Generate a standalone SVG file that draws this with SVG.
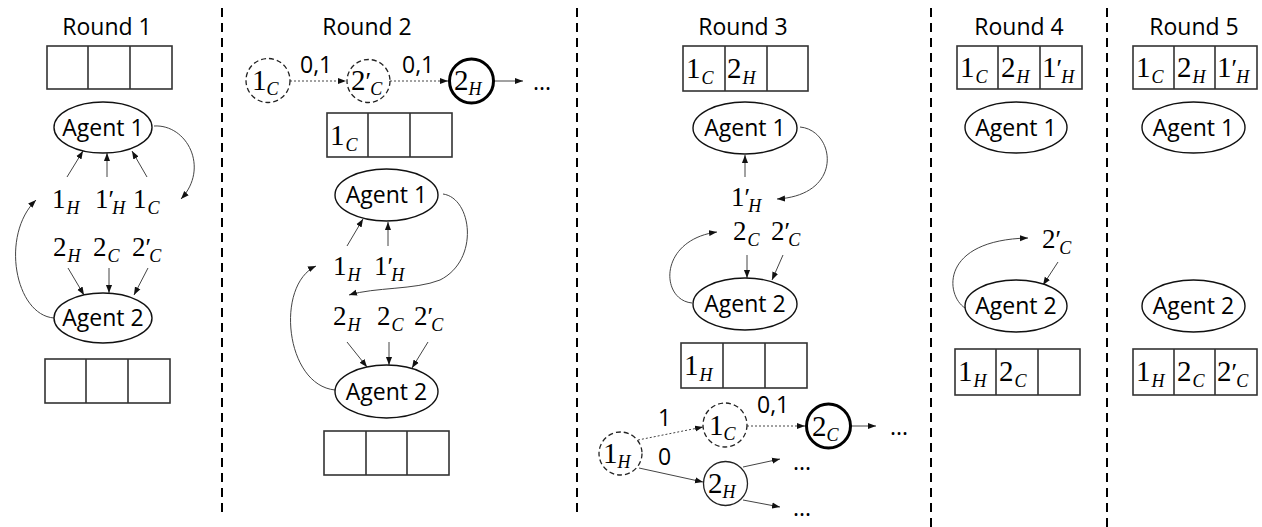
<svg xmlns="http://www.w3.org/2000/svg" width="1262" height="527" viewBox="0 0 1262 527">
<style>
.t{font-family:"Open Sans","Noto Sans",sans-serif;font-size:23px;fill:#000}
.c{text-anchor:middle}
.m{font-family:"Liberation Serif","DejaVu Serif",serif;font-size:27px;fill:#000}
.mb{font-size:29px}
.s{font-style:italic;font-size:18px}
.p{font-size:26px}
.bx{fill:none;stroke:#333;stroke-width:1.6}
.el{fill:#fff;stroke:#111;stroke-width:1.4}
.arr{fill:none;stroke:#444;stroke-width:1;marker-end:url(#ah)}
.dot{stroke-dasharray:2 2}
.dc{fill:#fff;stroke:#222;stroke-width:1.3;stroke-dasharray:5 3}
.bc{fill:#fff;stroke:#000;stroke-width:3}
.tc{fill:#fff;stroke:#222;stroke-width:1.3}
.sep{stroke:#000;stroke-width:2;stroke-dasharray:9 6}
</style>
<defs>
<marker id="ah" viewBox="0 0 10 10" refX="10" refY="5" markerWidth="8" markerHeight="8" markerUnits="userSpaceOnUse" orient="auto">
<path d="M0,1.2 L10,5 L0,8.8 z" fill="#111"/>
</marker>
</defs>
<rect width="1262" height="527" fill="#fff"/>

<g id="separators">
<line class="sep" x1="222" y1="8" x2="222" y2="513"/>
<line class="sep" x1="577" y1="8" x2="577" y2="513"/>
<line class="sep" x1="931" y1="8" x2="931" y2="527"/>
<line class="sep" x1="1107" y1="8" x2="1107" y2="527"/>
</g>

<g id="titles">
<text class="t c" x="107" y="35">Round 1</text>
<text class="t c" x="367" y="35">Round 2</text>
<text class="t c" x="743" y="35">Round 3</text>
<text class="t c" x="1019" y="35">Round 4</text>
<text class="t c" x="1194" y="35">Round 5</text>
</g>

<g id="connectors">
<!-- Round 1 -->
<line class="arr" x1="67" y1="177" x2="83" y2="151"/>
<line class="arr" x1="107" y1="177" x2="107" y2="153"/>
<line class="arr" x1="147" y1="177" x2="132" y2="151"/>
<line class="arr" x1="68" y1="268" x2="84" y2="295"/>
<line class="arr" x1="109" y1="268" x2="109" y2="293"/>
<line class="arr" x1="148" y1="268" x2="134" y2="295"/>
<path class="arr" d="M154,126 C187,124 210,168 181,199"/>
<path class="arr" d="M54,318 C15,315 0,235 36,200"/>
<!-- Round 2 -->
<line class="arr dot" x1="290" y1="81" x2="346" y2="81"/>
<line class="arr dot" x1="390" y1="81" x2="448" y2="81"/>
<line class="arr" x1="494" y1="81" x2="523" y2="81"/>
<line class="arr" x1="347" y1="246" x2="363" y2="219"/>
<line class="arr" x1="388" y1="246" x2="388" y2="222"/>
<line class="arr" x1="347" y1="342" x2="367" y2="367"/>
<line class="arr" x1="389" y1="342" x2="389" y2="365"/>
<line class="arr" x1="428" y1="342" x2="412" y2="368"/>
<path class="arr" d="M443,194 C472,198 480,260 440,280 C415,290 375,287 349,295"/>
<path class="arr" d="M335,390 C285,385 275,285 316,266"/>
<!-- Round 3 -->
<line class="arr" x1="745" y1="177" x2="745" y2="155"/>
<line class="arr" x1="747" y1="255" x2="747" y2="278"/>
<line class="arr" x1="783" y1="255" x2="772" y2="280"/>
<path class="arr" d="M800,127 C835,130 845,195 777,199"/>
<path class="arr" d="M692,303 C660,300 658,240 717,232"/>
<line class="arr dot" x1="638" y1="440" x2="703" y2="427"/>
<line class="arr dot" x1="747" y1="426" x2="805" y2="426"/>
<line class="arr" x1="851" y1="426" x2="876" y2="426"/>
<line class="arr" x1="639" y1="468" x2="703" y2="482"/>
<line class="arr" x1="743" y1="467" x2="780" y2="459"/>
<line class="arr" x1="743" y1="500" x2="780" y2="507"/>
<!-- Round 4 -->
<line class="arr" x1="1058" y1="262" x2="1043" y2="285"/>
<path class="arr" d="M965,308 C945,295 940,240 1028,238"/>
</g>

<g id="r1-labels">
<text class="m" x="52" y="208">1<tspan class="s" dx="1" dy="6">H</tspan></text>
<text class="m" x="95" y="208">1<tspan class="p">′</tspan><tspan class="s" dx="-2" dy="6">H</tspan></text>
<text class="m" x="133" y="208">1<tspan class="s" dx="1" dy="6">C</tspan></text>
<text class="m" x="53" y="256">2<tspan class="s" dx="1" dy="6">H</tspan></text>
<text class="m" x="93" y="256">2<tspan class="s" dx="1" dy="6">C</tspan></text>
<text class="m" x="132" y="256">2<tspan class="p">′</tspan><tspan class="s" dx="-2" dy="6">C</tspan></text>
</g>

<g id="r2-labels">
<text class="m" x="333" y="275">1<tspan class="s" dx="1" dy="6">H</tspan></text>
<text class="m" x="374" y="275">1<tspan class="p">′</tspan><tspan class="s" dx="-2" dy="6">H</tspan></text>
<text class="m" x="333" y="325">2<tspan class="s" dx="1" dy="6">H</tspan></text>
<text class="m" x="377" y="325">2<tspan class="s" dx="1" dy="6">C</tspan></text>
<text class="m" x="414" y="325">2<tspan class="p">′</tspan><tspan class="s" dx="-2" dy="6">C</tspan></text>
<text class="t" x="300" y="73">0,1</text>
<text class="t" x="402" y="73">0,1</text>
<text class="t" x="533" y="90">...</text>
</g>

<g id="r3-labels">
<text class="m" x="731" y="206">1<tspan class="p">′</tspan><tspan class="s" dx="-2" dy="6">H</tspan></text>
<text class="m" x="733" y="240">2<tspan class="s" dx="1" dy="6">C</tspan></text>
<text class="m" x="771" y="240">2<tspan class="p">′</tspan><tspan class="s" dx="-2" dy="6">C</tspan></text>
<text class="t" x="658" y="426">1</text>
<text class="t" x="658" y="465">0</text>
<text class="t" x="757" y="413">0,1</text>
<text class="t" x="890" y="435">...</text>
<text class="t" x="793" y="470">...</text>
<text class="t" x="793" y="516">...</text>
</g>

<g id="r4-labels">
<text class="m" x="1042" y="248">2<tspan class="p">′</tspan><tspan class="s" dx="-2" dy="6">C</tspan></text>
</g>

<!-- Round 1 nodes -->
<g id="r1-buf1">
<rect class="bx" x="47" y="46" width="125" height="43"/>
<line class="bx" x1="88" y1="46" x2="88" y2="89"/>
<line class="bx" x1="130" y1="46" x2="130" y2="89"/>
</g>
<g id="r1-agent1">
<ellipse class="el" cx="103" cy="127.5" rx="49" ry="25.5"/>
<text class="t c" x="103" y="136">Agent 1</text>
</g>
<g id="r1-agent2">
<ellipse class="el" cx="103" cy="318" rx="49" ry="25"/>
<text class="t c" x="103" y="326">Agent 2</text>
</g>
<g id="r1-buf2">
<rect class="bx" x="45" y="359" width="125" height="44"/>
<line class="bx" x1="86" y1="359" x2="86" y2="403"/>
<line class="bx" x1="128" y1="359" x2="128" y2="403"/>
</g>

<!-- Round 2 nodes -->
<g id="r2-n1c">
<circle class="dc" cx="268" cy="80.5" r="22"/>
<text class="m mb" x="252" y="90">1<tspan class="s" dy="5">C</tspan></text>
</g>
<g id="r2-n2pc">
<circle class="dc" cx="368.5" cy="81" r="21.5"/>
<text class="m mb" x="351" y="90">2<tspan class="p">′</tspan><tspan class="s" dx="-1" dy="5">C</tspan></text>
</g>
<g id="r2-n2h">
<circle class="bc" cx="471.5" cy="81" r="22"/>
<text class="m mb" x="454" y="90">2<tspan class="s" dy="5">H</tspan></text>
</g>
<g id="r2-buf1">
<rect class="bx" x="327" y="113" width="125" height="44"/>
<line class="bx" x1="368" y1="113" x2="368" y2="157"/>
<line class="bx" x1="410" y1="113" x2="410" y2="157"/>
<text class="m mb" x="330" y="145">1<tspan class="s" dx="1" dy="6">C</tspan></text>
</g>
<g id="r2-agent1">
<ellipse class="el" cx="386.5" cy="195" rx="51.5" ry="26"/>
<text class="t c" x="386.5" y="203">Agent 1</text>
</g>
<g id="r2-agent2">
<ellipse class="el" cx="386.5" cy="391.5" rx="51.5" ry="26.5"/>
<text class="t c" x="386.5" y="400">Agent 2</text>
</g>
<g id="r2-buf2">
<rect class="bx" x="324" y="431" width="125" height="44"/>
<line class="bx" x1="366" y1="431" x2="366" y2="475"/>
<line class="bx" x1="407" y1="431" x2="407" y2="475"/>
</g>

<!-- Round 3 nodes -->
<g id="r3-buf1">
<rect class="bx" x="683" y="46" width="125" height="45"/>
<line class="bx" x1="725" y1="46" x2="725" y2="91"/>
<line class="bx" x1="767" y1="46" x2="767" y2="91"/>
<text class="m mb" x="686" y="78">1<tspan class="s" dx="1" dy="6">C</tspan></text>
<text class="m mb" x="727" y="78">2<tspan class="s" dx="1" dy="6">H</tspan></text>
</g>
<g id="r3-agent1">
<ellipse class="el" cx="745" cy="128" rx="52" ry="26"/>
<text class="t c" x="745" y="136">Agent 1</text>
</g>
<g id="r3-agent2">
<ellipse class="el" cx="745" cy="304" rx="52" ry="26"/>
<text class="t c" x="745" y="312">Agent 2</text>
</g>
<g id="r3-buf2">
<rect class="bx" x="681" y="343" width="126" height="45"/>
<line class="bx" x1="723" y1="343" x2="723" y2="388"/>
<line class="bx" x1="765" y1="343" x2="765" y2="388"/>
<text class="m mb" x="684" y="375">1<tspan class="s" dx="1" dy="6">H</tspan></text>
</g>
<g id="r3-n1h">
<circle class="dc" cx="620.5" cy="453.5" r="21.5"/>
<text class="m mb" x="603" y="463">1<tspan class="s" dy="5">H</tspan></text>
</g>
<g id="r3-n1c">
<circle class="dc" cx="725" cy="425" r="22"/>
<text class="m mb" x="709" y="435">1<tspan class="s" dy="5">C</tspan></text>
</g>
<g id="r3-n2c">
<circle class="bc" cx="828.5" cy="426" r="22"/>
<text class="m mb" x="812" y="436">2<tspan class="s" dy="5">C</tspan></text>
</g>
<g id="r3-n2h">
<circle class="tc" cx="725.5" cy="483.5" r="22"/>
<text class="m mb" x="708" y="493">2<tspan class="s" dy="5">H</tspan></text>
</g>

<!-- Round 4 nodes -->
<g id="r4-buf1">
<rect class="bx" x="957" y="46" width="125" height="43"/>
<line class="bx" x1="998" y1="46" x2="998" y2="89"/>
<line class="bx" x1="1040" y1="46" x2="1040" y2="89"/>
<text class="m mb" x="960" y="77">1<tspan class="s" dx="1" dy="6">C</tspan></text>
<text class="m mb" x="1001" y="77">2<tspan class="s" dx="1" dy="6">H</tspan></text>
<text class="m mb" x="1042" y="77">1<tspan class="p">′</tspan><tspan class="s" dx="-1" dy="6">H</tspan></text>
</g>
<g id="r4-agent1">
<ellipse class="el" cx="1016" cy="127.5" rx="51" ry="25.5"/>
<text class="t c" x="1016" y="136">Agent 1</text>
</g>
<g id="r4-agent2">
<ellipse class="el" cx="1016" cy="306" rx="51" ry="26"/>
<text class="t c" x="1016" y="314">Agent 2</text>
</g>
<g id="r4-buf2">
<rect class="bx" x="955" y="349" width="125" height="46"/>
<line class="bx" x1="996" y1="349" x2="996" y2="395"/>
<line class="bx" x1="1038" y1="349" x2="1038" y2="395"/>
<text class="m mb" x="958" y="381">1<tspan class="s" dx="1" dy="6">H</tspan></text>
<text class="m mb" x="999" y="381">2<tspan class="s" dx="1" dy="6">C</tspan></text>
</g>

<!-- Round 5 nodes -->
<g id="r5-buf1">
<rect class="bx" x="1133" y="46" width="124" height="43"/>
<line class="bx" x1="1174" y1="46" x2="1174" y2="89"/>
<line class="bx" x1="1215" y1="46" x2="1215" y2="89"/>
<text class="m mb" x="1136" y="77">1<tspan class="s" dx="1" dy="6">C</tspan></text>
<text class="m mb" x="1177" y="77">2<tspan class="s" dx="1" dy="6">H</tspan></text>
<text class="m mb" x="1217" y="77">1<tspan class="p">′</tspan><tspan class="s" dx="-1" dy="6">H</tspan></text>
</g>
<g id="r5-agent1">
<ellipse class="el" cx="1193.5" cy="127.5" rx="51.5" ry="25.5"/>
<text class="t c" x="1193.5" y="136">Agent 1</text>
</g>
<g id="r5-agent2">
<ellipse class="el" cx="1193.5" cy="306" rx="51.5" ry="26"/>
<text class="t c" x="1193.5" y="314">Agent 2</text>
</g>
<g id="r5-buf2">
<rect class="bx" x="1133" y="349" width="124" height="46"/>
<line class="bx" x1="1174" y1="349" x2="1174" y2="395"/>
<line class="bx" x1="1215" y1="349" x2="1215" y2="395"/>
<text class="m mb" x="1136" y="381">1<tspan class="s" dx="1" dy="6">H</tspan></text>
<text class="m mb" x="1177" y="381">2<tspan class="s" dx="1" dy="6">C</tspan></text>
<text class="m mb" x="1217" y="381">2<tspan class="p">′</tspan><tspan class="s" dx="-1" dy="6">C</tspan></text>
</g>
</svg>
